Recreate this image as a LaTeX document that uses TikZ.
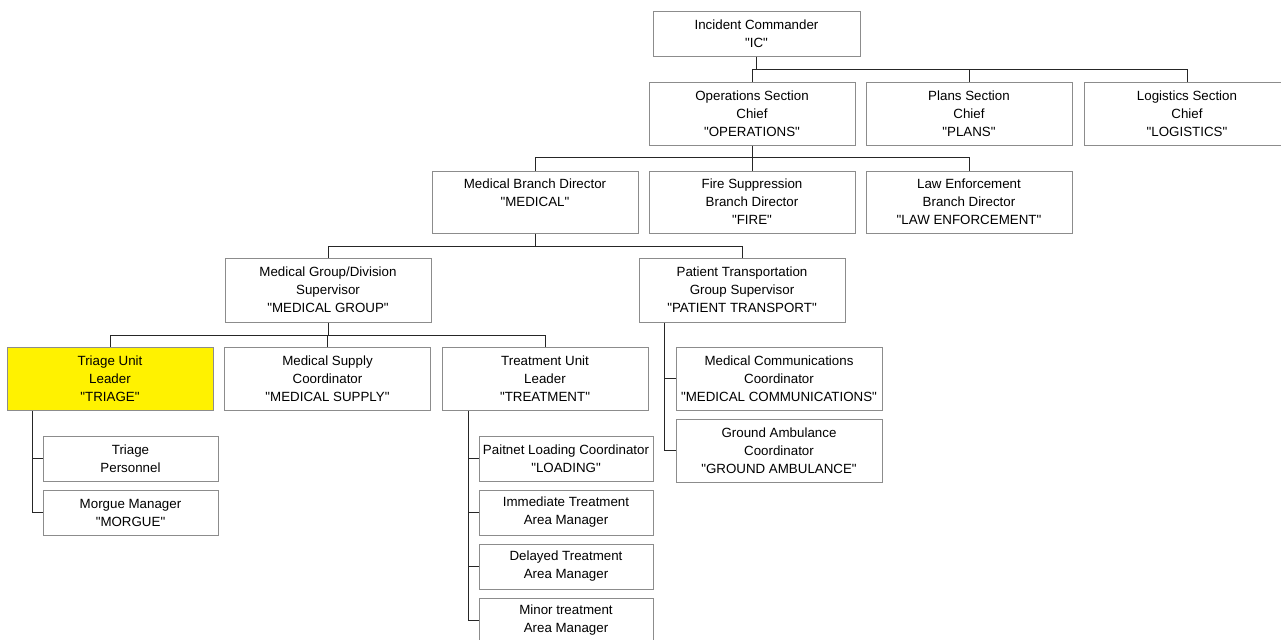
\documentclass[tikz,border=0pt]{standalone}
\usepackage{fontspec}
\setmainfont{Liberation Sans}[Ligatures=TeXOff]
\newcommand{\dq}{\symbol{34}}
\begin{document}
\begin{tikzpicture}[x=0.75pt,y=-0.75pt,
  box/.style={draw=black!45,line width=0.75pt,fill=white,align=center,inner sep=0pt,
    minimum width=206*0.75pt,minimum height=63*0.75pt,
    font=\fontsize{10}{13.5}\selectfont},
  small/.style={box,minimum width=175*0.75pt,minimum height=45*0.75pt},
  hl/.style={fill=yellow},
  conn/.style={draw=black!85,line width=0.75pt}]
\useasboundingbox (0,0) rectangle (1281,639);
% row 1
\node[box,minimum width=207*0.75pt,minimum height=45*0.75pt] (IC) at (756.5,33.5) {Incident Commander\\\dq IC\dq};
% row 2
\node[box] (Ops) at (752,113.5) {Operations Section\\Chief\\\dq OPERATIONS\dq};
\node[box] (Plans) at (969,113.5) {Plans Section\\Chief\\\dq PLANS\dq};
\node[box] (Log) at (1187,113.5) {Logistics Section\\Chief\\\dq LOGISTICS\dq};
% row 3
\node[box,minimum height=62*0.75pt] (Med) at (535,202) {Medical Branch Director\\\dq MEDICAL\dq\\\mbox{}};
\node[box,minimum height=62*0.75pt] (Fire) at (752,202) {Fire Suppression\\Branch Director\\\dq FIRE\dq};
\node[box,minimum height=62*0.75pt] (Law) at (969,202) {Law Enforcement\\Branch Director\\\dq LAW ENFORCEMENT\dq};
% row 4
\node[box,minimum height=64*0.75pt] (MG) at (328,290) {Medical Group/Division\\Supervisor\\\dq MEDICAL GROUP\dq};
\node[box,minimum height=64*0.75pt] (PT) at (742,290) {Patient Transportation\\Group Supervisor\\\dq PATIENT TRANSPORT\dq};
% row 5
\node[box,hl] (Tri) at (110,378.5) {Triage Unit\\Leader\\\dq TRIAGE\dq};
\node[box] (Sup) at (327.5,378.5) {Medical Supply\\Coordinator\\\dq MEDICAL SUPPLY\dq};
\node[box] (Treat) at (545,378.5) {Treatment Unit\\Leader\\\dq TREATMENT\dq};
\node[box] (Comm) at (779,378.5) {Medical Communications\\Coordinator\\\dq MEDICAL COMMUNICATIONS\dq};
\node[box] (Gnd) at (779,450.5) {Ground Ambulance\\Coordinator\\\dq GROUND AMBULANCE\dq};
% triage children
\node[small] (TP) at (130.5,458.5) {Triage\\Personnel};
\node[small] (Morg) at (130.5,512.5) {Morgue Manager\\\dq MORGUE\dq};
% treatment children
\node[small,minimum width=174*0.75pt] (Load) at (566,458.5) {Paitnet Loading Coordinator\\\dq LOADING\dq};
\node[small,minimum width=174*0.75pt] (Imm) at (566,512.5) {Immediate Treatment\\Area Manager};
\node[small,minimum width=174*0.75pt] (Del) at (566,566.5) {Delayed Treatment\\Area Manager};
\node[small,minimum width=174*0.75pt] (Min) at (566,620.5) {Minor treatment\\Area Manager};
% bus coordinates
\coordinate (b1) at (0,69);
\coordinate (b2) at (0,157);
\coordinate (b3) at (0,246);
\coordinate (b4) at (0,335);
\coordinate (t1) at (32,0);
\coordinate (t2) at (468,0);
\coordinate (t3) at (664,0);
% connectors
\draw[conn] (IC.south) -- (IC.south |- b1);
\draw[conn] (Ops.north) -- (Ops.north |- b1) -- (Log.north |- b1) -- (Log.north);
\draw[conn] (Plans.north |- b1) -- (Plans.north);
\draw[conn] (Ops.south) -- (Ops.south |- b2);
\draw[conn] (Med.north) -- (Med.north |- b2) -- (Law.north |- b2) -- (Law.north);
\draw[conn] (Fire.north |- b2) -- (Fire.north);
\draw[conn] (Med.south) -- (Med.south |- b3);
\draw[conn] (MG.north) -- (MG.north |- b3) -- (PT.north |- b3) -- (PT.north);
\draw[conn] (MG.south) -- (MG.south |- b4);
\draw[conn] (Tri.north) -- (Tri.north |- b4) -- (Treat.north |- b4) -- (Treat.north);
\draw[conn] (Sup.north |- b4) -- (Sup.north);
\draw[conn] (Tri.south -| t1) -- (t1 |- Morg.west) -- (Morg.west);
\draw[conn] (t1 |- TP.west) -- (TP.west);
\draw[conn] (Treat.south -| t2) -- (t2 |- Min.west) -- (Min.west);
\draw[conn] (t2 |- Load.west) -- (Load.west);
\draw[conn] (t2 |- Imm.west) -- (Imm.west);
\draw[conn] (t2 |- Del.west) -- (Del.west);
\draw[conn] (PT.south -| t3) -- (t3 |- Gnd.west) -- (Gnd.west);
\draw[conn] (t3 |- Comm.west) -- (Comm.west);
\end{tikzpicture}
\end{document}
